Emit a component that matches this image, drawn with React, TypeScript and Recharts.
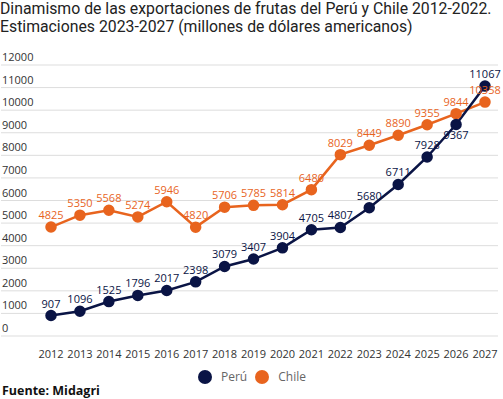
import { LineChart, Line, XAxis, YAxis, CartesianGrid, LabelList } from "recharts"

const years = ["2012", "2013", "2014", "2015", "2016", "2017", "2018", "2019", "2020", "2021", "2022", "2023", "2024", "2025", "2026", "2027"]
const peru = [907, 1096, 1525, 1796, 2017, 2398, 3079, 3407, 3904, 4705, 4807, 5680, 6711, 7928, 9367, 11067]
const chile = [4825, 5350, 5568, 5274, 5946, 4820, 5706, 5785, 5814, 6480, 8029, 8449, 8890, 9355, 9844, 10358]
const yTicks = [0, 1000, 2000, 3000, 4000, 5000, 6000, 7000, 8000, 9000, 10000, 11000, 12000]

const data = years.map((y, i) => ({ year: y, peru: peru[i], chile: chile[i] }))

const NAVY = "#0a1445"
const ORANGE = "#e8641e"
const FONT = "'Open Sans', sans-serif"

const YTick = (props: any) => (
  <text x={2} y={props.y - 4} fontSize={11} fill="#333" fontFamily={FONT}>
    {props.payload.value}
  </text>
)

const XTick = (props: any) => (
  <text x={props.x} y={props.y + 14} fontSize={11} fill="#333" fontFamily={FONT} textAnchor="middle">
    {props.payload.value}
  </text>
)

const makeLabel = (color: string, below: number[]) => (props: any) => {
  const { x, y, value, index } = props
  const down = below.includes(index)
  return (
    <text x={x} y={down ? y + 15 : y - 8} fontSize={11} fill={color} fontFamily={FONT} textAnchor="middle">
      {value}
    </text>
  )
}

export default function App() {
  return (
    <div style={{ position: "absolute", left: 0, top: 0, width: 503, height: 399, background: "#fff", fontFamily: FONT }}>
      <div style={{ position: "absolute", left: 0, top: 0, fontFamily: "Roboto, sans-serif", fontSize: 15.8, color: "#222", lineHeight: "18px", whiteSpace: "nowrap" }}>
        Dinamismo de las exportaciones de frutas del Perú y Chile 2012-2022.
        <br />
        Estimaciones 2023-2027 (millones de dólares americanos)
      </div>
      <LineChart width={503} height={399} data={data} margin={{ top: 65, right: 5, bottom: 0, left: 0 }}>
        <CartesianGrid vertical={false} stroke="#dddddd" />
        <XAxis dataKey="year" scale="point" padding={{ left: 50, right: 13 }} axisLine={false} tickLine={false} height={63} tick={<XTick />} interval={0} />
        <YAxis width={1} domain={[0, 12000]} ticks={yTicks} interval={0} axisLine={false} tickLine={false} tick={<YTick />} />
        <Line dataKey="chile" stroke={ORANGE} strokeWidth={2.5} dot={{ r: 4.5, fill: ORANGE, stroke: ORANGE }} isAnimationActive={false}>
          <LabelList dataKey="chile" content={makeLabel(ORANGE, [])} />
        </Line>
        <Line dataKey="peru" stroke={NAVY} strokeWidth={2.5} dot={{ r: 4.5, fill: NAVY, stroke: NAVY }} isAnimationActive={false}>
          <LabelList dataKey="peru" content={makeLabel(NAVY, [14])} />
        </Line>
      </LineChart>
      <div style={{ position: "absolute", top: 368, left: 198, display: "flex", alignItems: "center", fontSize: 12, color: "#666" }}>
        <span style={{ width: 14, height: 14, borderRadius: 7, background: NAVY, display: "inline-block" }} />
        <span style={{ marginLeft: 9 }}>Perú</span>
        <span style={{ width: 14, height: 14, borderRadius: 7, background: ORANGE, display: "inline-block", marginLeft: 8 }} />
        <span style={{ marginLeft: 9 }}>Chile</span>
      </div>
      <div style={{ position: "absolute", top: 382, left: 2, fontSize: 12.5, fontWeight: 700, color: "#111" }}>Fuente: Midagri</div>
    </div>
  )
}
